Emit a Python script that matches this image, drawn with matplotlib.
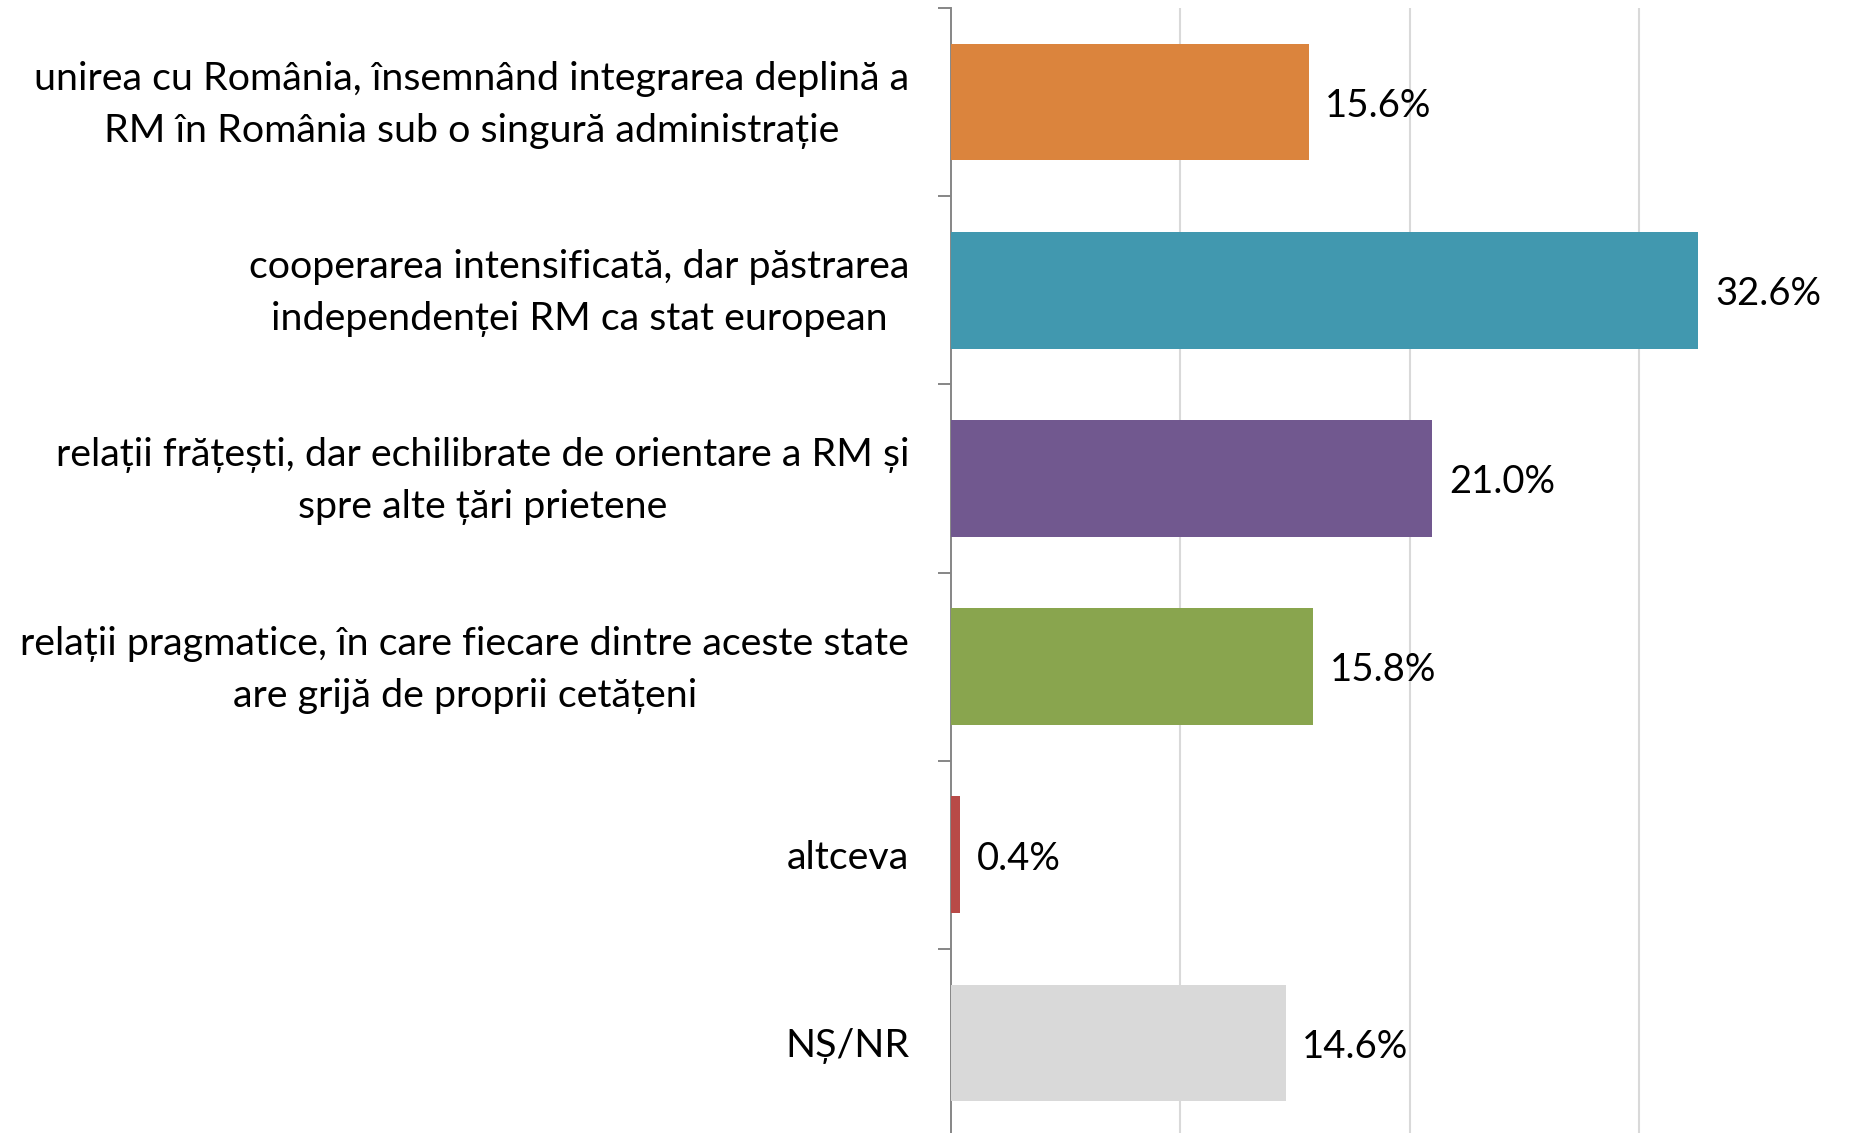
import numpy as np
import matplotlib.pyplot as plt
from matplotlib.transforms import ScaledTranslation

# date sondaj
categorii = [
    "unirea cu România, însemnând integrarea deplină a\nRM în România sub o singură administrație",
    "cooperarea intensificată, dar păstrarea\nindependenței RM ca stat european",
    "relații frățești, dar echilibrate de orientare a RM și\nspre alte țări prietene",
    "relații pragmatice, în care fiecare dintre aceste state\nare grijă de proprii cetățeni",
    "altceva",
    "NȘ/NR",
]
valori = [15.6, 32.6, 21.0, 15.8, 0.4, 14.6]
culori = ["#DB843D", "#4198AF", "#71588F", "#89A54E", "#B84A47", "#D9D9D9"]

plt.rcParams['font.family'] = ['Lato', 'DejaVu Sans']

fig = plt.figure(figsize=(18.57, 11.33), dpi=100)
ax = fig.add_axes([951/1857, -4/1133, 917/1857, 1129/1133])

y = np.arange(len(categorii))
ax.barh(y, valori, height=0.62, color=culori, zorder=3)
for yi, v in zip(y, valori):
    ax.text(v + 0.72, yi + 0.02, f"{v:.1f}%", va='center', ha='left', fontsize=27.5)

ax.set_xlim(0, 40)
ax.set_ylim(len(categorii) - 0.5, -0.5)
ax.set_xticks([10, 20, 30])
ax.xaxis.grid(True, color='#D9D9D9', linewidth=1.5, zorder=0)
ax.tick_params(axis='x', length=0, labelbottom=False)

ax.set_yticks(y)
ax.set_yticks(np.arange(len(categorii) + 1) - 0.5, minor=True)
ax.tick_params(axis='y', which='major', length=0, pad=30)
ax.tick_params(axis='y', which='minor', length=9.5, width=1.4, color='#868686')
ax.set_yticklabels(categorii, fontsize=28.4, multialignment='center', linespacing=1.55)
jos = ScaledTranslation(0, -0.03, fig.dpi_scale_trans)
for lbl in ax.get_yticklabels():
    lbl.set_va('center')
    lbl.set_transform(lbl.get_transform() + jos)

for s in ['top', 'right', 'bottom']:
    ax.spines[s].set_visible(False)
ax.spines['left'].set_color('#868686')
ax.spines['left'].set_linewidth(1.4)

fig.savefig("out.png", dpi=100)
